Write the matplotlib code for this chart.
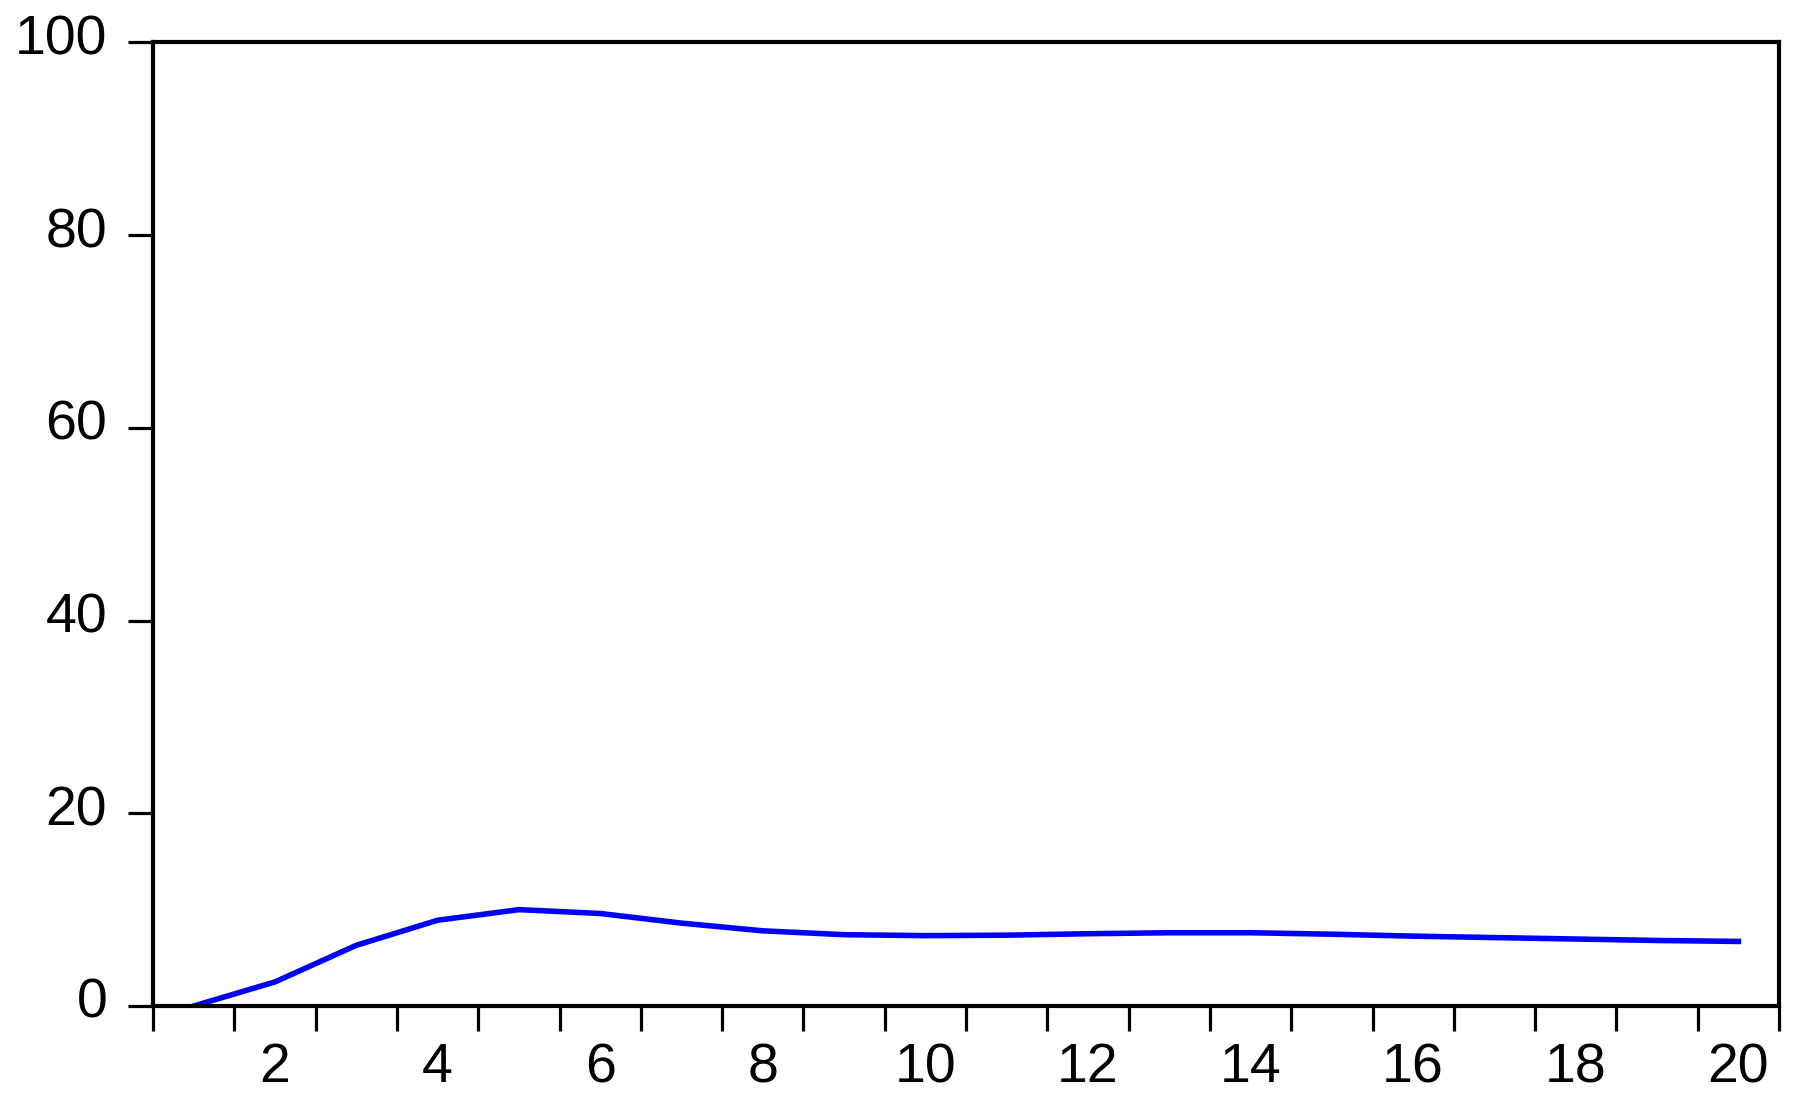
import matplotlib
matplotlib.use('Agg')
from matplotlib import pyplot as plt
from matplotlib.ticker import FixedLocator
from matplotlib.transforms import ScaledTranslation

periods = list(range(1, 21))
response = [0.0, 2.5, 6.3, 8.9, 10.0, 9.6, 8.6, 7.8, 7.4, 7.3,
            7.35, 7.5, 7.6, 7.6, 7.45, 7.25, 7.1, 6.95, 6.8, 6.7]
y_ticks = [0, 20, 40, 60, 80, 100]
x_labels = [2, 4, 6, 8, 10, 12, 14, 16, 18, 20]

plt.rcParams['font.family'] = ['Liberation Sans', 'DejaVu Sans']

fig = plt.figure(figsize=(18.03, 11.01), dpi=100)
ax = fig.add_axes([0.0849, 0.0863, 0.9018, 0.8751])

ax.plot(periods, response, color='#0000ff', linewidth=4.0, solid_joinstyle='round')

ax.set_xlim(0.5, 20.5)
ax.set_ylim(0, 100)

# tick marks on category boundaries, labels on the even centres
ax.xaxis.set_major_locator(FixedLocator(x_labels))
ax.xaxis.set_minor_locator(FixedLocator([p - 0.5 for p in periods] + [20.5]))
ax.set_xticklabels([str(v) for v in x_labels], fontsize=40)
ax.tick_params(axis='x', which='major', length=0, pad=26)
ax.tick_params(axis='x', which='minor', length=18, width=2.3, direction='out')

ax.set_yticks(y_ticks)
ax.set_yticklabels([str(v) for v in y_ticks], fontsize=40)
ax.tick_params(axis='y', which='major', length=18, width=2.3, direction='out', pad=15)
up = ScaledTranslation(0, 2 / 100, fig.dpi_scale_trans)
for lab in ax.get_yticklabels():
    lab.set_verticalalignment('center')
    lab.set_transform(lab.get_transform() + up)

for s in ax.spines.values():
    s.set_linewidth(3.0)

fig.savefig('out.png', dpi=100)
